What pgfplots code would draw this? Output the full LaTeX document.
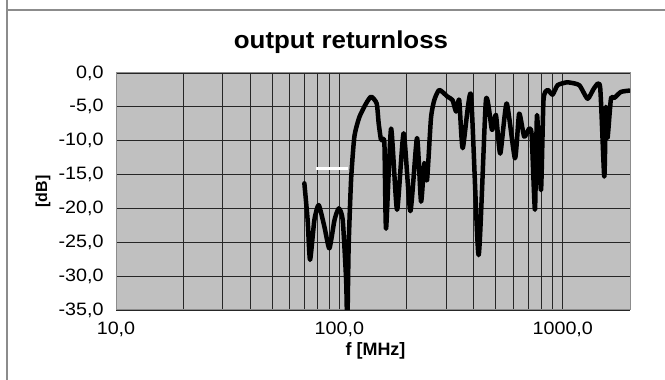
\documentclass[border=0pt]{standalone}
\usepackage{pgfplots}
\pgfplotsset{compat=1.18}
\usepackage{fontspec}
\setmainfont{Liberation Sans}
\newfontfamily\tickfont[FakeStretch=1.1]{Liberation Sans}
\newfontfamily\titlefont[FakeStretch=1.06]{Liberation Sans}
\definecolor{plotbg}{RGB}{192,192,192}
\definecolor{framegray}{RGB}{140,140,140}
\begin{document}
\begin{tikzpicture}
\path[use as bounding box] (0bp,0bp) rectangle (665bp,380bp);
\fill[white] (0bp,0bp) rectangle (665bp,380bp);
\draw[framegray, line width=1.2bp] (7bp,0bp) -- (7bp,380bp);
\draw[framegray, line width=1.2bp] (7bp,370bp) -- (665bp,370bp);
\node[font=\titlefont\fontsize{24.5}{28}\selectfont\bfseries] at (341bp,338bp) {output returnloss};
\begin{axis}[
  at={(116bp,70bp)}, anchor=south west,
  scale only axis, width=514bp, height=237bp,
  xmode=log, xmin=10, xmax=2000, ymin=-35, ymax=0,
  axis background/.style={fill=plotbg},
  axis line style={framegray, line width=1bp},
  xtick={10,100,1000}, xticklabels={{10,0},{100,0},{1000,0}},
  ytick={-35,-30,-25,-20,-15,-10,-5,0},
  yticklabels={{-35,0},{-30,0},{-25,0},{-20,0},{-15,0},{-10,0},{-5,0},{0,0}},
  grid=both,
  major grid style={black!85, line width=0.8bp},
  minor grid style={black!85, line width=0.8bp},
  major tick length=0pt, minor tick length=0pt,
  tick label style={font=\tickfont\fontsize{18}{20}\selectfont},
  xticklabel style={yshift=-8bp},
  yticklabel style={xshift=-9bp},
  xlabel={f [MHz]},
  xlabel style={font=\fontsize{18}{20}\selectfont\bfseries, at={(axis description cs:0.505,-0.171)}, anchor=center},
  ylabel={[dB]},
  ylabel style={font=\fontsize{16}{18}\selectfont\bfseries, at={(axis description cs:-0.142,0.5)}, anchor=center},
]
\addplot[white, line width=3bp] coordinates {(78.6,-14.1) (108.9,-14.1)};
\addplot[black, line width=4.5bp, line join=round, line cap=round, smooth, tension=0.35] coordinates {
(69.7,-16.3) (72.1,-21.7) (73.9,-27.6) (77.3,-21.7) (80.8,-19.5) (85.7,-22.7)
(90.2,-25.9) (95.1,-21.7) (99.4,-20.0) (103.5,-21.7) (107.2,-30.6) (108.5,-37.5)
(110.0,-25.7) (112.8,-15.8) (116.7,-9.4) (122.9,-6.5) (131.7,-4.5) (138.7,-3.5)
(146.9,-4.5) (149.9,-7.4) (153.7,-9.9) (159.0,-10.3) (161.8,-23.0) (170.4,-8.2)
(181.2,-20.2) (194.0,-8.9) (207.8,-20.4) (222.6,-9.6) (232,-19.0) (240,-13.3)
(246.8,-15.8) (257,-6.7) (266,-4.0) (280,-2.5) (305,-3.5) (321,-4.0) (333,-5.7)
(344,-4.0) (356.6,-11.1) (388,-3.2) (420,-26.9) (453,-4.0) (482,-8.4) (502,-6.2)
(525,-11.9) (561,-4.5) (611,-12.6) (638,-6.0) (672,-9.4) (708,-8.2) (726,-9.2)
(751,-20.2) (767,-6.2) (799,-17.3) (820,-4.0) (855,-2.5) (900,-3.2) (948,-1.8)
(1033,-1.4) (1069,-1.4) (1186,-1.8) (1292,-3.8) (1384,-2.2) (1470,-2.1)
(1534,-15.3) (1560,-5.0) (1586,-9.6) (1643,-3.8) (1699,-3.7) (1820,-2.8) (1990,-2.6)
};
\end{axis}
\end{tikzpicture}
\end{document}
